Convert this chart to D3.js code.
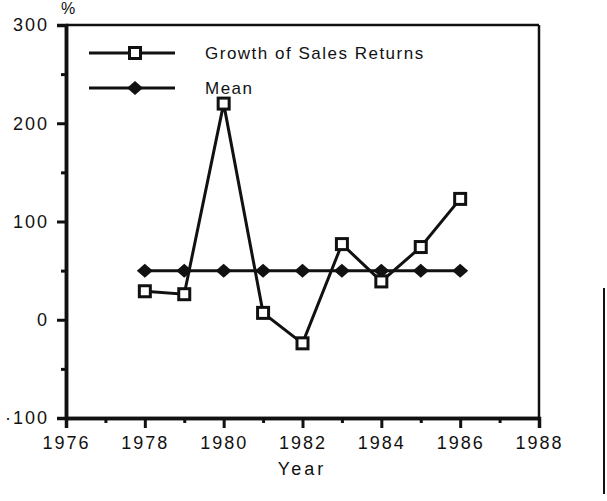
<!DOCTYPE html>
<html lang="en">
<meta charset="UTF-8">
<script src="https://d3js.org/d3.v7.min.js"></script>
<style>
  body { margin: 0; background: #fff; }
  text { font-family: "Liberation Sans", Arial, sans-serif; fill: #111; }
</style>
<body>
<svg id="canvas"></svg>
<script>
// data
let years = [1978, 1979, 1980, 1981, 1982, 1983, 1984, 1985, 1986]
let growth = [29, 26, 220, 7, -24, 77, 39, 74, 123]
let mean = [50, 50, 50, 50, 50, 50, 50, 50, 50]
let xTicks = [1976, 1978, 1980, 1982, 1984, 1986, 1988]
let yTicks = [-100, 0, 100, 200, 300]
let seriesNames = ['Growth of Sales Returns', 'Mean']

let width = 607
let height = 501

let canvas = d3.select('#canvas').attr('width', width).attr('height', height)

let xScale = d3.scaleLinear().domain([1976, 1988]).range([66, 539])
let yScale = d3.scaleLinear().domain([-100, 300]).range([418, 25])

// frame: top + right thinner
canvas.append('line').attr('x1', xScale(1976)).attr('x2', xScale(1988))
  .attr('y1', yScale(300)).attr('y2', yScale(300)).attr('stroke', '#111').attr('stroke-width', 2.5)
canvas.append('line').attr('x1', xScale(1988)).attr('x2', xScale(1988))
  .attr('y1', yScale(300)).attr('y2', yScale(-100)).attr('stroke', '#111').attr('stroke-width', 2.5)

// axes
let xAxis = d3.axisBottom(xScale).tickValues(xTicks).tickFormat(d3.format('d')).tickSize(10).tickPadding(8)
let xMinor = d3.axisBottom(xScale).tickValues(d3.range(1977, 1988, 2)).tickFormat('').tickSize(5).tickSizeOuter(0)
let yAxis = d3.axisLeft(yScale).tickValues(yTicks).tickSize(9).tickPadding(8)
let yMinor = d3.axisLeft(yScale).tickValues([-50, 50, 150, 250]).tickFormat('').tickSize(5).tickSizeOuter(0)

let gx = canvas.append('g').attr('transform', 'translate(0,' + yScale(-100) + ')').call(xAxis)
canvas.append('g').attr('transform', 'translate(0,' + yScale(-100) + ')').call(xMinor)
let gy = canvas.append('g').attr('transform', 'translate(' + xScale(1976) + ',0)').call(yAxis)
canvas.append('g').attr('transform', 'translate(' + xScale(1976) + ',0)').call(yMinor)

canvas.selectAll('.domain').attr('stroke', '#111').attr('stroke-width', 3.5)
canvas.selectAll('.tick line').attr('stroke', '#111').attr('stroke-width', 3)
canvas.selectAll('.tick text').attr('font-size', 18).attr('font-family', '"Liberation Sans", Arial, sans-serif')
  .attr('fill', '#111').attr('letter-spacing', 2)
gy.selectAll('.tick text').text(d => d < 0 ? '·' + Math.abs(d) : d)

// axis titles
canvas.append('text').attr('x', 68).attr('y', 14).attr('font-size', 16).attr('text-anchor', 'middle').text('%')
canvas.append('text').attr('x', 302).attr('y', 475).attr('font-size', 18).attr('text-anchor', 'middle')
  .attr('letter-spacing', 3).text('Year')

// mean line + diamonds
let line = d3.line().x((d, i) => xScale(years[i])).y(d => yScale(d))
canvas.append('path').datum(mean).attr('d', line).attr('fill', 'none').attr('stroke', '#111').attr('stroke-width', 3)
let diamond = (cx, cy) => 'M' + (cx - 8) + ',' + cy + 'L' + cx + ',' + (cy - 7) + 'L' + (cx + 8) + ',' + cy + 'L' + cx + ',' + (cy + 7) + 'Z'
canvas.selectAll('.dia').data(mean).enter().append('path').attr('class', 'dia')
  .attr('d', (d, i) => diamond(xScale(years[i]), yScale(d))).attr('fill', '#111')

// growth line + squares
canvas.append('path').datum(growth).attr('d', line).attr('fill', 'none').attr('stroke', '#111').attr('stroke-width', 3)
canvas.selectAll('.sq').data(growth).enter().append('rect').attr('class', 'sq')
  .attr('x', (d, i) => xScale(years[i]) - 5.5).attr('y', d => yScale(d) - 5.5)
  .attr('width', 11).attr('height', 11).attr('fill', '#fff').attr('stroke', '#111').attr('stroke-width', 3)

// legend
let legY = [53, 88]
seriesNames.forEach((name, i) => {
  canvas.append('line').attr('x1', 89).attr('x2', 175).attr('y1', legY[i]).attr('y2', legY[i])
    .attr('stroke', '#111').attr('stroke-width', 3)
  if (i == 0) {
    canvas.append('rect').attr('x', 129.5).attr('y', legY[i] - 5.5).attr('width', 11).attr('height', 11)
      .attr('fill', '#fff').attr('stroke', '#111').attr('stroke-width', 3)
  } else {
    canvas.append('path').attr('d', diamond(135, legY[i])).attr('fill', '#111')
  }
  canvas.append('text').attr('x', 205).attr('y', legY[i] + 6).attr('font-size', 17)
    .attr('letter-spacing', 1.5).text(name)
})

// scan edge on the right
canvas.append('line').attr('x1', 604).attr('x2', 604).attr('y1', 288).attr('y2', 494)
  .attr('stroke', '#111').attr('stroke-width', 2)
</script>
</body>
</html>
